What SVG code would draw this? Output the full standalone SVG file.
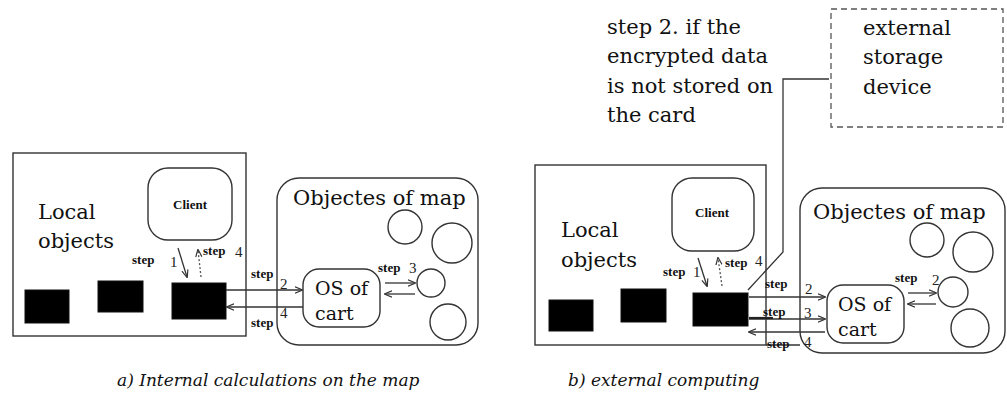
<svg xmlns="http://www.w3.org/2000/svg" width="1007" height="403" viewBox="0 0 1007 403">
<style>
.box{fill:none;stroke:#333;stroke-width:1.4}
.blk{fill:#000;stroke:#111;stroke-width:1}
.t{font-family:"DejaVu Serif","Liberation Serif",serif;font-size:21px;fill:#111}
.os{font-family:"DejaVu Serif","Liberation Serif",serif;font-size:19px;fill:#111}
.st{font-family:"Liberation Serif",serif;font-size:13px;font-weight:bold;fill:#111}
.n{font-family:"Liberation Serif",serif;font-size:15px;fill:#222}
.cl{font-family:"Liberation Serif",serif;font-size:13px;font-weight:bold;fill:#111;text-anchor:middle}
.cap{font-family:"DejaVu Serif","Liberation Serif",serif;font-size:17px;font-style:italic;fill:#111}
.ln{fill:none;stroke:#333;stroke-width:1.3}
.dl{fill:none;stroke:#555;stroke-width:1.3;stroke-dasharray:2,2}
.ext{fill:none;stroke:#555;stroke-width:1.3;stroke-dasharray:6,4}
</style>
<defs>
<marker id="ah" viewBox="0 0 10 10" refX="9" refY="5" markerWidth="6" markerHeight="6" orient="auto-start-reverse">
<path d="M0,1 L10,5 L0,9" fill="none" stroke="#333" stroke-width="1.5"/>
</marker>
</defs>

<!-- Panel a -->
<g id="a-local">
<rect class="box" x="13" y="153" width="233" height="183"/>
<text class="t" x="38" y="219">Local</text>
<text class="t" x="38" y="248">objects</text>
</g>
<g id="a-client">
<rect class="box" x="148" y="168" width="84" height="72" rx="20"/>
<text class="cl" x="190" y="209">Client</text>
</g>
<g id="a-obj1"><rect class="blk" x="25" y="290" width="44" height="33"/></g>
<g id="a-obj2"><rect class="blk" x="98" y="281" width="45" height="31"/></g>
<g id="a-card"><rect class="blk" x="172" y="283" width="54" height="36"/></g>
<g id="a-map">
<rect class="box" x="277" y="178" width="201" height="167" rx="22"/>
<text class="t" x="293" y="205">Objectes of map</text>
</g>
<g id="a-os">
<rect class="box" x="303" y="269" width="77" height="58" rx="16"/>
<text class="os" x="315" y="295">OS of</text>
<text class="os" x="315" y="320">cart</text>
</g>
<g id="a-circles">
<circle class="box" cx="405" cy="227" r="17"/>
<circle class="box" cx="452" cy="243" r="20"/>
<circle class="box" cx="431" cy="283" r="14"/>
<circle class="box" cx="448" cy="322" r="18"/>
</g>

<!-- Panel b -->
<g id="b-local">
<rect class="box" x="535" y="165" width="231" height="180"/>
<line class="box" x1="766" y1="345" x2="800" y2="345"/>
<text class="t" x="561" y="237">Local</text>
<text class="t" x="561" y="267">objects</text>
</g>
<g id="b-client">
<rect class="box" x="672" y="178" width="82" height="73" rx="20"/>
<text class="cl" x="712" y="217">Client</text>
</g>
<g id="b-obj1"><rect class="blk" x="549" y="300" width="44" height="31"/></g>
<g id="b-obj2"><rect class="blk" x="621" y="289" width="45" height="33"/></g>
<g id="b-card"><rect class="blk" x="693" y="293" width="55" height="33"/></g>
<g id="b-map">
<rect class="box" x="800" y="188" width="205" height="165" rx="22"/>
<text class="t" x="813" y="219">Objectes of map</text>
</g>
<g id="b-os">
<rect class="box" x="827" y="285" width="77" height="58" rx="16"/>
<text class="os" x="838" y="311">OS of</text>
<text class="os" x="838" y="336">cart</text>
</g>
<g id="b-circles">
<circle class="box" cx="927" cy="240" r="17"/>
<circle class="box" cx="973" cy="252" r="20"/>
<circle class="box" cx="953" cy="292" r="15"/>
<circle class="box" cx="970" cy="328" r="19"/>
</g>
<g id="b-storage">
<rect class="ext" x="831" y="9" width="172" height="118"/>
<text class="t" x="863" y="35">external</text>
<text class="t" x="863" y="64">storage</text>
<text class="t" x="863" y="94">device</text>
</g>
<g id="b-note">
<text class="t" x="607" y="34">step 2. if the</text>
<text class="t" x="607" y="63">encrypted data</text>
<text class="t" x="607" y="93">is not stored on</text>
<text class="t" x="607" y="122">the card</text>
</g>

<g id="connectors">
<!-- panel a -->
<line class="ln" x1="178" y1="248" x2="187" y2="277" marker-end="url(#ah)"/>
<line class="dl" x1="201" y1="277" x2="198" y2="250" marker-end="url(#ah)"/>
<line class="ln" x1="226" y1="290" x2="302" y2="290" marker-end="url(#ah)"/>
<line class="ln" x1="303" y1="307" x2="227" y2="307" marker-end="url(#ah)"/>
<line class="ln" x1="385" y1="283" x2="415" y2="283" marker-end="url(#ah)"/>
<line class="ln" x1="415" y1="294" x2="385" y2="294" marker-end="url(#ah)"/>
<!-- panel b -->
<line class="ln" x1="698" y1="258" x2="707" y2="286" marker-end="url(#ah)"/>
<line class="dl" x1="722" y1="286" x2="718" y2="258" marker-end="url(#ah)"/>
<line class="ln" x1="749" y1="297" x2="825" y2="297" marker-end="url(#ah)"/>
<line class="ln" x1="749" y1="319" x2="825" y2="319" marker-end="url(#ah)"/>
<line stroke="#222" stroke-width="2.2" x1="749" y1="318" x2="773" y2="318"/>
<line class="ln" x1="825" y1="332" x2="749" y2="332" marker-end="url(#ah)"/>
<line class="ln" x1="908" y1="293" x2="936" y2="293" marker-end="url(#ah)"/>
<line class="ln" x1="936" y1="304" x2="908" y2="304" marker-end="url(#ah)"/>
<path class="ln" d="M829,79 H783 V252 L748,290"/>
</g>

<g id="labels">
<text class="st" x="132" y="264">step</text><text class="n" x="170" y="267">1</text>
<text class="st" x="203" y="255">step</text><text class="n" x="235" y="257">4</text>
<text class="st" x="251" y="278">step</text><text class="n" x="280" y="289">2</text>
<text class="st" x="251" y="327">step</text><text class="n" x="280" y="318">4</text>
<text class="st" x="378" y="272">step</text><text class="n" x="409" y="273">3</text>

<text class="st" x="663" y="276">step</text><text class="n" x="693" y="277">1</text>
<text class="st" x="725" y="267">step</text><text class="n" x="755" y="266">4</text>
<text class="st" x="765" y="288">step</text><text class="n" x="805" y="294">2</text>
<text class="st" x="763" y="316">step</text><text class="n" x="804" y="318">3</text>
<text class="st" x="767" y="348">step</text><text class="n" x="804" y="347">4</text>
<text class="st" x="895" y="282">step</text><text class="n" x="932" y="285">2</text>
</g>

<g id="captions">
<text class="cap" x="117" y="386">a) Internal calculations on the map</text>
<text class="cap" x="568" y="386">b) external computing</text>
</g>
</svg>
